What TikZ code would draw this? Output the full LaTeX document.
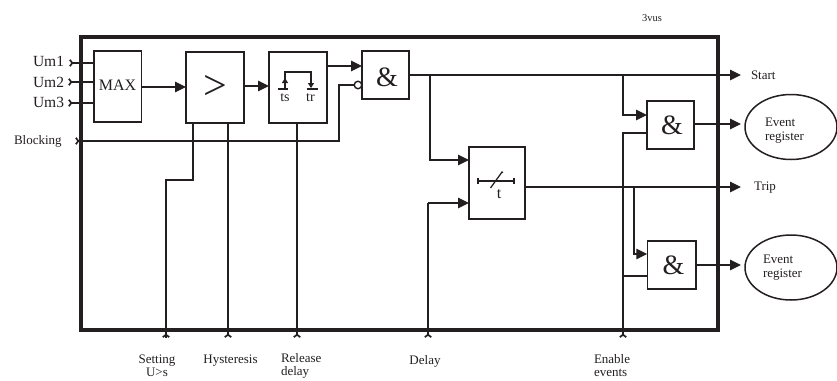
\documentclass[tikz,border=0pt]{standalone}
\usepackage{fontspec}
\setmainfont{Liberation Serif}
\usetikzlibrary{arrows.meta,calc,shapes.geometric}
\definecolor{ink}{HTML}{231F20}
\tikzset{
  x=1pt,y=-1pt,
  every node/.style={text=ink,inner sep=0pt,outer sep=0pt},
  wire/.style={draw=ink,line width=1.25pt},
  flow/.style={wire,-{Triangle[length=11pt,width=10.5pt]}},
  feed/.style={wire,{Straight Barb[reversed,length=2.4pt,width=6.5pt,line width=1.7pt]}-},
  block/.style={draw=ink,line width=1.5pt,rectangle,minimum width=#1},
  lab/.style={font=\fontsize{13}{14.5}\selectfont},
  bot/.style={font=\fontsize{13}{13}\selectfont},
  biglab/.style={font=\fontsize{15.5}{17}\selectfont},
  reg/.style={draw=ink,line width=1.5pt,ellipse,minimum width=92pt,minimum height=65pt},
  amp/.style={font=\fontsize{28}{29}\selectfont},
}
\begin{document}
\begin{tikzpicture}
\useasboundingbox (0,0) rectangle (837,380);
% frame
\node[draw=ink,line width=3.2pt,minimum width=637pt,minimum height=293pt] (frame) at (399.5,183.5) {};
% blocks
\node[block=47.5pt,minimum height=71pt] (max) at (117.75,86.5) {};
\node[font=\fontsize{16}{17}\selectfont] (maxt) at (117.5,85) {MAX};
\node[block=58pt,minimum height=71pt] (cmp) at (215,87.5) {};
\node[font=\fontsize{42}{44}\selectfont] (cmpt) at (215,87) {>};
\node[block=58pt,minimum height=71pt] (rel) at (298,87.5) {};
\node[block=47pt,minimum height=48pt] (and1) at (385.5,75) {};
\node[amp] (and1t) at (387,77) {\&};
\node[block=56pt,minimum height=72pt] (dly) at (497,183) {};
\node[block=47pt,minimum height=48pt] (and2) at (670.5,125) {};
\node[amp] (and2t) at (672,125) {\&};
\node[block=48.5pt,minimum height=48pt] (and3) at (671.5,265) {};
\node[amp] (and3t) at (673.5,265) {\&};
\node[reg] (ev1) at (791,127) {};
\node[reg] (ev2) at (791,267.5) {};
% free ends
\coordinate (um1) at (69,63);
\coordinate (um2) at (68,82);
\coordinate (um3) at (68,103);
\coordinate (blk) at (75,141);
\coordinate (pset) at (166,338);
\coordinate (phys) at (228,338);
\coordinate (prel) at (297,338);
\coordinate (pdly) at (428,338);
\coordinate (pena) at (623,338);
\coordinate (start) at (741,75);
\coordinate (trip) at (741,187);
\coordinate (j1) at (430,75);
\coordinate (j2) at (623,75);
\coordinate (j3) at (634,187);
\coordinate (j4) at (623,276);
\coordinate (sb) at (193,180);
% labels
\node[biglab,anchor=east] (l1) at (64,61.5) {Um1};
\node[biglab,anchor=east] (l2) at (64,82) {Um2};
\node[biglab,anchor=east] (l3) at (64,102.5) {Um3};
\node[lab,anchor=west] (l4) at (14,141.5) {Blocking};
\node[lab,anchor=west] (l5) at (751,75.5) {Start};
\node[lab,anchor=west] (l6) at (754,187.5) {Trip};
\node[anchor=west,font=\fontsize{10.5}{12}\selectfont] (l7) at (642,18) {3vus};
\node[lab,align=left,anchor=west] (e1) at (765,130.5) {Event\\register};
\node[lab,align=left,anchor=west] (e2) at (763,267.5) {Event\\register};
\node[bot,align=center] (b1) at (157,366) {Setting\\U>s};
\node[bot] (b2) at (230.5,361) {Hysteresis};
\node[bot,align=left,anchor=west] (b3) at (281,366) {Release\\delay};
\node[bot] (b4) at (425,361) {Delay};
\node[bot,align=left,anchor=west] (b5) at (594,366) {Enable\\events};
% inputs
\draw[feed] (um1) -- (um1-|max.west);
\draw[feed] (um2) -- (um2-|max.west);
\draw[feed] (um3) -- (um3-|max.west);
% main path
\draw[flow] ($(max.east)+(0,0.5)$) -- ($(max.east-|cmp.west)+(0,0.5)$);
\draw[flow] ($(cmp.east)+(0,-1.5)$) -- ($(cmp.east-|rel.west)+(0,-1.5)$);
\draw[flow] (rel.east|-0,66) -- (and1.west|-0,66);
% blocking
\node[draw=ink,line width=1.4pt,circle,minimum size=7.5pt,fill=white] (inv) at (358,85) {};
\draw[feed] (blk) -| (339,85) -- (inv.west);
% tops/bottoms
\draw[wire] (193,123) -- (sb) -| (pset);
\draw[feed] (pset) -- (pset|-sb);
\draw[feed] (phys) -- (phys|-cmp.south);
\draw[feed] (prel) -- (prel|-rel.south);
% and1 out
\draw[flow] (and1.east) -- (start);
\draw[flow] (j1) |- (dly.west|-0,160);
\draw[feed] (pdly) -- (pdly|-0,203);
\draw[flow] (pdly|-0,203) -- (dly.west|-0,203);
\draw[flow] (j2) |- (and2.west|-0,115);
\draw[feed] (pena) |- (and2.west|-0,133);
\draw[wire] (j4) -- (j4-|and3.west);
% delay out
\draw[flow] (dly.east|-trip) -- (trip);
\draw[flow] (j3) |- (and3.west|-0,254);
% and outs
\draw[flow] (and2.east|-0,124) -- (741,124);
\draw[flow] (and3.east) -- (741,265);
% pulse symbol
\draw[wire] (278,89) -- (288,89);
\draw[wire,-{Triangle[length=5pt,width=6pt]}] (285,89) -- (285,78);
\draw[wire] (285,79) -- (285,72) -- (311,72) -- (311,79);
\draw[wire,-{Triangle[length=5pt,width=6pt]}] (311,77) -- (311,88);
\draw[wire] (307,89) -- (318,89);
\node[font=\fontsize{14}{15}\selectfont] (ts) at (285,97.5) {ts};
\node[font=\fontsize{14}{15}\selectfont] (tr) at (310.5,97.5) {tr};
% delay symbol
\draw[wire] (478,178) -- (478,184) (478,181) -- (514,181) (514,178) -- (514,184);
\draw[wire] (490.5,188) -- (502,172) -- (503,172.5);
\node[font=\fontsize{16}{17}\selectfont] (t) at (499,194.5) {t};
\end{tikzpicture}
\end{document}
